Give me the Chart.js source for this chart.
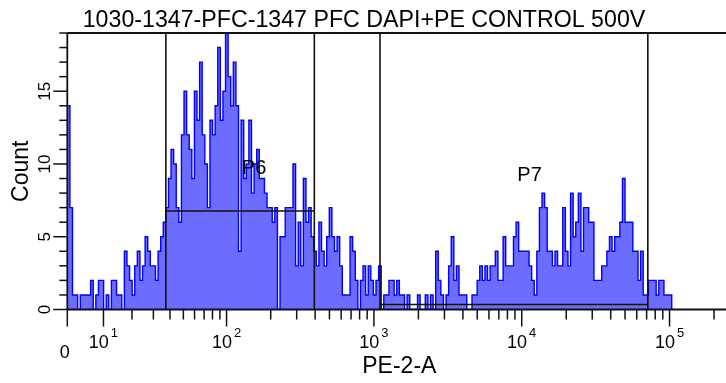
<!DOCTYPE html>
<html>
<head>
<meta charset="utf-8">
<script src="https://cdn.jsdelivr.net/npm/chart.js@4.4.1/dist/chart.umd.min.js"></script>
<style>
  html, body { margin: 0; padding: 0; background: #fff; overflow: hidden; }
  #wrap { position: relative; width: 740px; height: 383px; }
  canvas { display: block; }
</style>
</head>
<body>
<div id="wrap"><canvas id="hist" width="740" height="383"></canvas></div>
<script>
// ---- Data: PE-2-A histogram, 256 display channels on an arcsinh axis ----
const plotTitle = '1030-1347-PFC-1347 PFC DAPI+PE CONTROL 500V';
const xTitle = 'PE-2-A';
const yTitle = 'Count';

const channelCount = 256;
const axisMaxValue = 262144;

// events per display channel, starting at channel 0
const counts = [
  14, 7, 1, 1, 0, 1, 1, 1, 1, 2,
  0, 1, 2, 2, 0, 1, 0, 2, 2, 1,
  1, 0, 4, 3, 2, 1, 3, 4, 2, 3,
  5, 4, 3, 3, 2, 4, 5, 6, 7, 9,
  11, 10, 7, 6, 12, 15, 12, 11, 9, 15,
  13, 17, 12, 10, 7, 13, 12, 14, 18, 13,
  15, 19, 16, 14, 17, 14, 4, 13, 9, 10,
  13, 8, 10, 11, 9, 9, 8, 7, 7, 6,
  7, 0, 5, 5, 7, 7, 7, 10, 3, 6,
  3, 9, 6, 7, 5, 4, 3, 6, 4, 3,
  5, 7, 5, 4, 5, 3, 1, 1, 1, 5,
  4, 2, 0, 2, 3, 1, 3, 2, 1, 2,
  3, 0, 1, 1, 2, 2, 1, 2, 1, 1,
  0, 1, 0, 0, 0, 1, 0, 0, 1, 0,
  1, 0, 4, 2, 1, 0, 1, 3, 5, 2,
  3, 1, 1, 1, 0, 0, 1, 1, 2, 3,
  2, 3, 2, 3, 3, 4, 2, 2, 5, 3,
  3, 3, 5, 6, 4, 4, 4, 4, 3, 2,
  1, 4, 7, 8, 7, 4, 4, 3, 4, 3,
  3, 7, 4, 3, 8, 5, 6, 8, 4, 7,
  7, 6, 6, 2, 2, 2, 3, 3, 4, 5,
  4, 5, 5, 6, 9, 6, 6, 6, 4, 4,
  2, 4, 1, 1, 2, 2, 2, 1, 2, 2,
  1, 1, 1, 0
];

// axis ticks
const xMajorTicks = [0, 10, 100, 1000, 10000, 100000];
const xMinorTicks = [
  20, 30, 40, 50, 60, 70, 80, 90,
  200, 300, 400, 500, 600, 700, 800, 900,
  2000, 3000, 4000, 5000, 6000, 7000, 8000, 9000,
  20000, 30000, 40000, 50000, 60000, 70000, 80000, 90000,
  200000
];
const decadeExponents = ['1', '2', '3', '4', '5'];
const yMax = 19;
const yLabelValues = [0, 5, 10, 15];

// interval gates
const gateNames = ['P6', 'P7'];
const gateLow = [37.3, 1099];
const gateHigh = [395, 71300];
const gateLevel = [6.77, 0.34];

// ---- arcsinh (biexponential-like) axis ----
const COFACTOR = 16.85;

class ArcsinhScale extends Chart.LinearScale {
  static id = 'arcsinh';
  static defaults = {};
  configure() {
    super.configure();
    this._tMin = Math.asinh(this.min / COFACTOR);
    this._tRange = Math.asinh(this.max / COFACTOR) - this._tMin;
  }
  getPixelForValue(value) {
    return this.getPixelForDecimal((Math.asinh(value / COFACTOR) - this._tMin) / this._tRange);
  }
  getValueForPixel(pixel) {
    return COFACTOR * Math.sinh(this._tMin + this.getDecimalForPixel(pixel) * this._tRange);
  }
  buildTicks() {
    const ticks = xMajorTicks.map(v => ({ value: v, major: true }))
      .concat(xMinorTicks.map(v => ({ value: v, major: false })));
    return ticks.sort((a, b) => a.value - b.value);
  }
}
Chart.register(ArcsinhScale);

// channel i covers [edge(i), edge(i+1)) in PE-2-A units
const tSpan = Math.asinh(axisMaxValue / COFACTOR);
const channelEdge = i => COFACTOR * Math.sinh(i * tSpan / channelCount);

const histPoints = counts.map((c, i) => ({ x: channelEdge(i), y: c }));
histPoints.push({ x: channelEdge(counts.length), y: 0 });

const FONT = '"Liberation Sans", Arial, Helvetica, sans-serif';

function strokeLine(ctx, x0, y0, x1, y1) {
  ctx.beginPath();
  ctx.moveTo(x0, y0);
  ctx.lineTo(x1, y1);
  ctx.stroke();
}

const cytometryDecor = {
  id: 'cytometryDecor',
  afterDatasetsDraw(chart) {
    const { ctx, chartArea: a, scales: { x, y } } = chart;
    ctx.save();
    ctx.strokeStyle = '#111';
    ctx.lineWidth = 1.6;

    // gates
    gateNames.forEach((name, i) => {
      const x0 = x.getPixelForValue(gateLow[i]);
      const x1 = x.getPixelForValue(gateHigh[i]);
      const yl = y.getPixelForValue(gateLevel[i]);
      strokeLine(ctx, x0, a.top, x0, a.bottom);
      strokeLine(ctx, x1, a.top, x1, a.bottom);
      strokeLine(ctx, x0, yl, x1, yl);
    });

    // frame
    ctx.lineWidth = 1.8;
    strokeLine(ctx, a.left, a.top, a.right, a.top);
    strokeLine(ctx, a.left, a.bottom, a.right, a.bottom);
    strokeLine(ctx, a.left, a.top, a.left, a.bottom);

    // x tick marks
    ctx.lineWidth = 1.5;
    x.ticks.forEach(t => {
      const px = x.getPixelForValue(t.value);
      strokeLine(ctx, px, a.bottom, px, a.bottom + (t.major ? 17 : 10));
    });
    // y tick marks
    y.ticks.forEach(t => {
      const py = y.getPixelForValue(t.value);
      const len = yLabelValues.includes(t.value) ? 14 : 8;
      strokeLine(ctx, a.left - len, py, a.left, py);
    });
    ctx.restore();
  },
  afterDraw(chart) {
    const { ctx, chartArea: a, scales: { x, y } } = chart;
    ctx.save();
    ctx.fillStyle = '#000';
    ctx.textBaseline = 'alphabetic';

    // title
    ctx.font = '23.2px ' + FONT;
    ctx.textAlign = 'center';
    ctx.fillText(plotTitle, chart.width / 2 - 6, 26.7);

    // decade labels 10^n
    xMajorTicks.slice(1).forEach((v, i) => {
      const px = x.getPixelForValue(v);
      ctx.font = '18px ' + FONT;
      const wBase = ctx.measureText('10').width;
      ctx.font = '13px ' + FONT;
      const wExp = ctx.measureText(decadeExponents[i]).width;
      const start = px - (wBase + wExp + 2) / 2;
      ctx.textAlign = 'left';
      ctx.font = '18px ' + FONT;
      ctx.fillText('10', start, a.bottom + 38.5);
      ctx.font = '13px ' + FONT;
      ctx.fillText(decadeExponents[i], start + wBase + 2, a.bottom + 27);
    });
    // zero label
    ctx.font = '18px ' + FONT;
    ctx.textAlign = 'center';
    ctx.fillText('0', x.getPixelForValue(0) - 2.5, a.bottom + 48.5);

    // y labels, rotated
    ctx.font = '17px ' + FONT;
    yLabelValues.forEach(v => {
      const py = y.getPixelForValue(v);
      ctx.save();
      ctx.translate(a.left - 17.5, py);
      ctx.rotate(-Math.PI / 2);
      ctx.textAlign = 'center';
      ctx.fillText(String(v), 0, 0);
      ctx.restore();
    });

    // axis titles
    ctx.font = '23px ' + FONT;
    ctx.textAlign = 'center';
    ctx.fillText(xTitle, (a.left + a.right) / 2, a.bottom + 63.5);
    ctx.save();
    ctx.translate(28, (a.top + a.bottom) / 2);
    ctx.rotate(-Math.PI / 2);
    ctx.fillText(yTitle, 0, 0);
    ctx.restore();

    // gate names
    ctx.font = '20px ' + FONT;
    ctx.textAlign = 'center';
    ctx.fillText(gateNames[0], x.getPixelForValue(154), y.getPixelForValue(9.3));
    ctx.fillText(gateNames[1], x.getPixelForValue(11300), y.getPixelForValue(8.82));
    ctx.restore();
  }
};

new Chart(document.getElementById('hist'), {
  type: 'line',
  data: {
    datasets: [{
      data: histPoints,
      stepped: true,
      fill: 'origin',
      backgroundColor: 'rgb(108,108,255)',
      borderColor: '#0000ff',
      borderWidth: 1.4,
      pointRadius: 0,
      tension: 0
    }]
  },
  options: {
    responsive: false,
    animation: false,
    devicePixelRatio: 1,
    layout: { padding: { left: 67.3, top: 33, right: 8.6, bottom: 73.5 } },
    plugins: { legend: { display: false }, tooltip: { enabled: false }, title: { display: false } },
    scales: {
      x: {
        type: 'arcsinh',
        display: false,
        min: 0,
        max: axisMaxValue,
        ticks: { display: false, callback: () => '' }
      },
      y: {
        type: 'linear',
        display: false,
        min: 0,
        max: yMax,
        ticks: { stepSize: 1, display: false }
      }
    }
  },
  plugins: [cytometryDecor]
});
</script>
</body>
</html>
